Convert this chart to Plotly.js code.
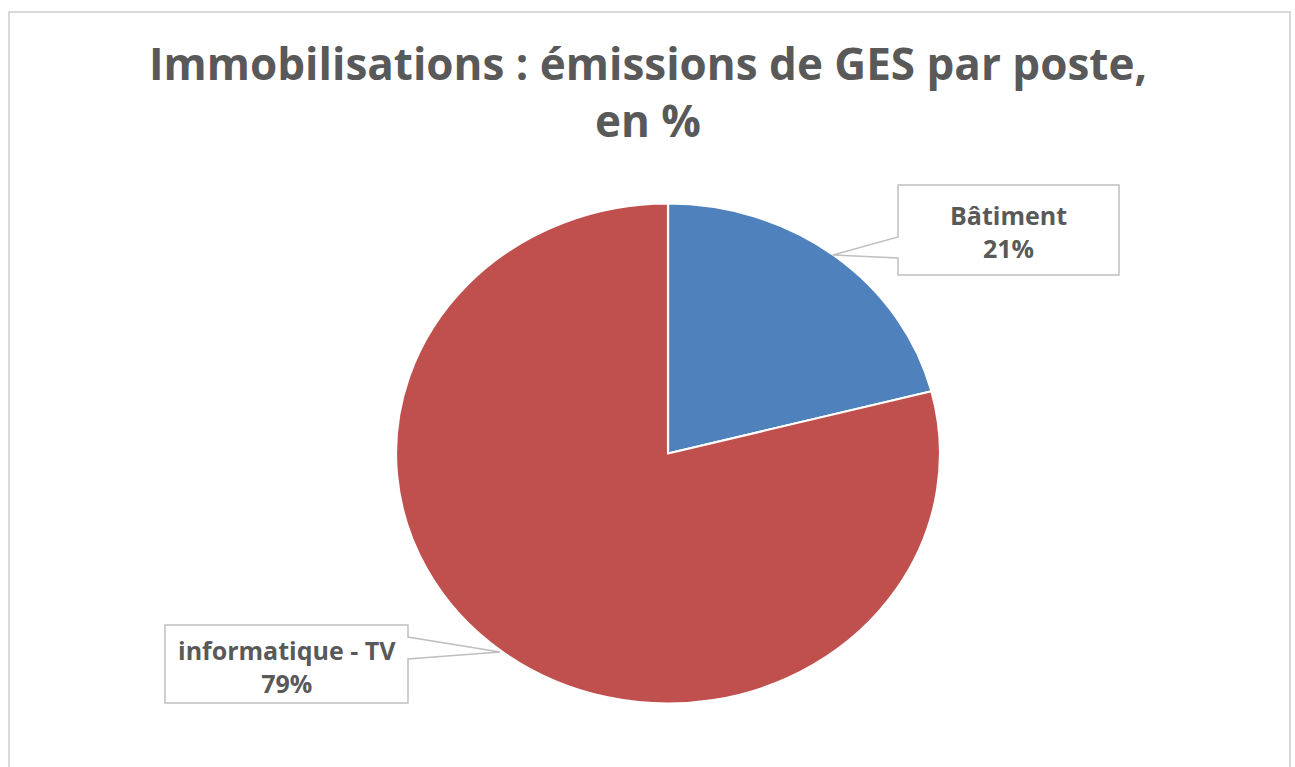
<!DOCTYPE html>
<html>
<head>
<meta charset="utf-8">
<script src="https://cdn.plot.ly/plotly-3.0.1.min.js"></script>
<style>
html,body{margin:0;padding:0;background:#fff;}
#chart{width:1295px;height:767px;}
</style>
</head>
<body>
<div id="chart"></div>
<script>
// ---- data ----
const categories = ["Bâtiment", "informatique - TV"];
const values = [21, 79];
const colors = ["#4F81BD", "#C0504D"];
const titleText = "Immobilisations : émissions de GES par poste,<br>en %";

// ---- layout helpers (pixel -> paper) ----
const W = 1295, H = 767;
const px = x => x / W;
const py = y => (H - y) / H;
function pathFrom(points) {
  return points.map((p, i) => (i === 0 ? "M" : "L") + px(p[0]).toFixed(5) + "," + py(p[1]).toFixed(5)).join(" ") + " Z";
}

const cx = 668, cy = 453.5, R = 250;
const total = values.reduce((a, b) => a + b, 0);
const labelText = categories.map((c, i) => c + "<br>" + Math.round(values[i] / total * 100) + "%");

const trace = {
  type: "pie",
  labels: categories,
  values: values,
  sort: false,
  direction: "clockwise",
  rotation: 0,
  marker: {colors: colors, line: {color: "#ffffff", width: 2}},
  textinfo: "none",
  hoverinfo: "none",
  showlegend: false,
  domain: {x: [px(cx - R), px(cx + R)], y: [py(cy + R), py(cy - R)]}
};

const calloutStyle = {type: "path", xref: "paper", yref: "paper", fillcolor: "#ffffff",
  line: {color: "#bfbfbf", width: 1.5}, layer: "above"};

const labelFont = {family: "Open Sans, sans-serif", size: 25, color: "#595959", weight: "bold"};

const layout = {
  width: W, height: H,
  margin: {l: 0, r: 0, t: 0, b: 0},
  paper_bgcolor: "#ffffff",
  plot_bgcolor: "#ffffff",
  font: {family: "Open Sans, sans-serif", color: "#595959"},
  title: {
    text: titleText,
    x: px(648), xanchor: "center", xref: "paper",
    y: py(80), yanchor: "top", yref: "paper",
    font: {family: "Open Sans, sans-serif", size: 44, color: "#595959", weight: "bold"}
  },
  shapes: [
    {type: "rect", xref: "paper", yref: "paper", x0: px(9), x1: px(1290), y0: py(12), y1: py(800),
     line: {color: "#d9d9d9", width: 2}, fillcolor: "rgba(0,0,0,0)", layer: "below"},
    Object.assign({}, calloutStyle, {path: pathFrom([[898,185],[1119,185],[1119,275],[898,275],[898,258],[833,255],[898,237]])}),
    Object.assign({}, calloutStyle, {path: pathFrom([[165,625],[408,625],[408,637],[500,652],[408,659],[408,703],[165,703]])})
  ],
  annotations: [
    {text: labelText[0], x: px(1008.5), y: py(231), xref: "paper", yref: "paper",
     xanchor: "center", yanchor: "middle", showarrow: false, align: "center", font: labelFont},
    {text: labelText[1], x: px(286.5), y: py(666), xref: "paper", yref: "paper",
     xanchor: "center", yanchor: "middle", showarrow: false, align: "center", font: labelFont}
  ]
};

Plotly.newPlot("chart", [trace], layout, {displayModeBar: false, staticPlot: true}).then(function () {
  const g = document.querySelector(".pielayer");
  if (g) g.setAttribute("transform", "translate(" + cx + ",0) scale(1.088,1) translate(" + (-cx) + ",0)");
});
</script>
</body>
</html>
